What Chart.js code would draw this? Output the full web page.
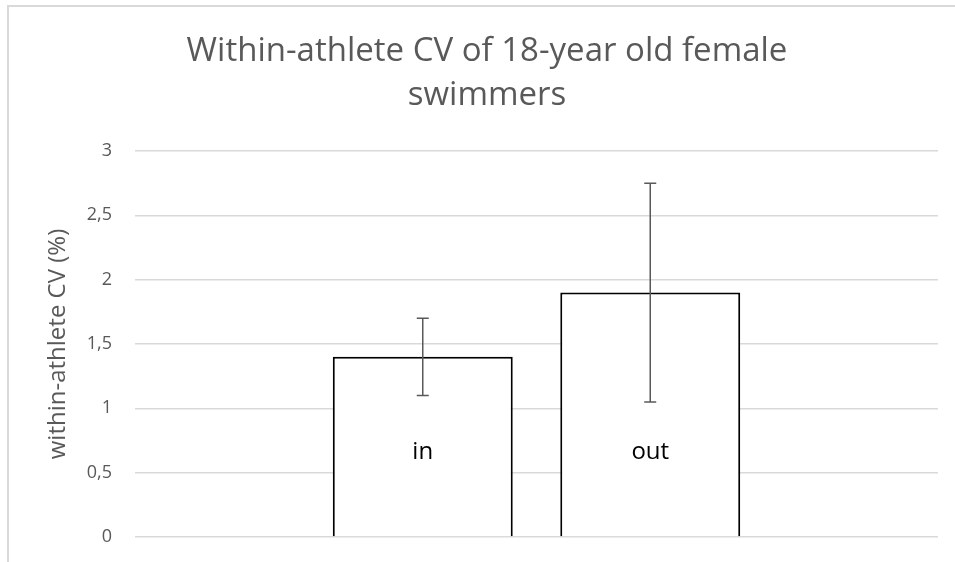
<!DOCTYPE html>
<html>
<head>
<meta charset="utf-8">
<script src="https://cdn.jsdelivr.net/npm/chart.js@4/dist/chart.umd.min.js"></script>
<style>
  html, body { margin: 0; padding: 0; background: #ffffff; }
  #wrap { width: 955px; height: 562px; position: relative; }
</style>
</head>
<body>
<div id="wrap"><canvas id="c" width="955" height="562"></canvas></div>
<script>
// ---- data ----
const categories = [''];
const seriesNames = ['in', 'out'];
const meanValues = [1.4, 1.9];
const errorValues = [0.3, 0.85];
const yMin = 0;
const yMax = 3;
const yStep = 0.5;
const titleLines = ['Within-athlete CV of 18-year old female', 'swimmers'];
const yAxisTitle = 'within-athlete CV (%)';

const GREY = '#595959';

const frame = {
  id: 'frame',
  beforeDraw(chart) {
    const ctx = chart.ctx;
    ctx.save();
    ctx.fillStyle = '#ffffff';
    ctx.fillRect(0, 0, chart.width, chart.height);
    ctx.strokeStyle = '#d9d9d9';
    ctx.lineWidth = 2;
    ctx.beginPath();
    ctx.moveTo(8, chart.height);
    ctx.lineTo(8, 6);
    ctx.lineTo(chart.width, 6);
    ctx.stroke();
    ctx.restore();
  }
};

const errorBars = {
  id: 'errorBars',
  afterDatasetsDraw(chart) {
    const ctx = chart.ctx;
    const y = chart.scales.y;
    ctx.save();
    ctx.strokeStyle = GREY;
    ctx.lineWidth = 1.5;
    chart.data.datasets.forEach((ds, i) => {
      const meta = chart.getDatasetMeta(i);
      meta.data.forEach((el, j) => {
        const v = ds.data[j];
        const e = ds.errors[j];
        const x = el.x;
        const yt = y.getPixelForValue(v + e);
        const yb = y.getPixelForValue(v - e);
        ctx.beginPath();
        ctx.moveTo(x, yt); ctx.lineTo(x, yb);
        ctx.moveTo(x - 6, yt); ctx.lineTo(x + 6, yt);
        ctx.moveTo(x - 6, yb); ctx.lineTo(x + 6, yb);
        ctx.stroke();
      });
    });
    ctx.restore();
  }
};

const seriesLabels = {
  id: 'seriesLabels',
  afterDatasetsDraw(chart) {
    const ctx = chart.ctx;
    const y = chart.scales.y;
    ctx.save();
    ctx.fillStyle = '#000000';
    ctx.font = '24px "Open Sans"';
    ctx.textAlign = 'center';
    ctx.textBaseline = 'middle';
    chart.data.datasets.forEach((ds, i) => {
      const meta = chart.getDatasetMeta(i);
      meta.data.forEach((el) => {
        ctx.fillText(ds.label, el.x, y.getPixelForValue(0.66));
      });
    });
    ctx.restore();
  }
};

const datasets = seriesNames.map((name, i) => ({
  label: name,
  data: [meanValues[i]],
  errors: [errorValues[i]],
  backgroundColor: '#ffffff',
  borderColor: '#000000',
  borderWidth: 2,
  categoryPercentage: 0.5666,
  barPercentage: 0.791
}));

new Chart(document.getElementById('c'), {
  type: 'bar',
  data: { labels: categories, datasets },
  options: {
    responsive: false,
    animation: false,
    layout: { padding: { left: 36, right: 17, top: 0, bottom: 25 } },
    plugins: {
      legend: { display: false },
      tooltip: { enabled: false },
      title: {
        display: true,
        text: titleLines,
        color: GREY,
        font: { family: '"Open Sans"', size: 33, weight: 'normal', lineHeight: 1.333 },
        padding: { top: 30, bottom: 33 }
      }
    },
    scales: {
      x: {
        display: false,
        offset: true
      },
      y: {
        min: yMin,
        max: yMax,
        border: { display: false },
        grid: { color: '#d9d9d9', lineWidth: 1.5, drawTicks: true, tickLength: 23, tickColor: 'rgba(0,0,0,0)' },
        ticks: {
          stepSize: yStep,
          padding: 0,
          color: GREY,
          font: { family: '"Open Sans"', size: 18 },
          callback: (v) => String(v).replace('.', ',')
        },
        title: {
          display: true,
          text: yAxisTitle,
          color: GREY,
          font: { family: '"Open Sans"', size: 24 },
          padding: { top: 8, bottom: 0 }
        },
        afterFit(scale) { scale.width = 99; }
      }
    }
  },
  plugins: [frame, errorBars, seriesLabels]
});
</script>
</body>
</html>
